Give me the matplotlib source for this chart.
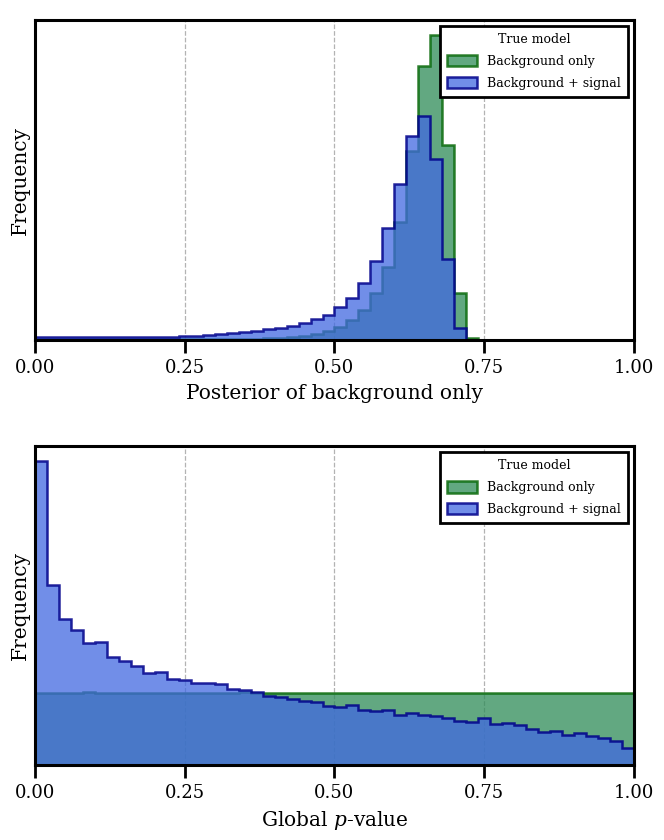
import numpy as np
import matplotlib
matplotlib.use('Agg')
import matplotlib.pyplot as plt

plt.rcParams['font.family'] = ['DejaVu Serif']
plt.rcParams['mathtext.fontset'] = 'dejavuserif'

# 50 bins of width 0.02 on [0, 1]
bin_edges = np.linspace(0, 1, 51)

# top panel: posterior of background only (arbitrary frequency units)
post_bkg_only = [0.8, 0.8, 0.7, 0.6, 0.6, 0.6, 0.6, 0.6, 0.7, 0.7,
                 0.7, 0.8, 0.9, 1.0, 1.0, 1.1, 1.2, 1.3, 1.5, 1.7,
                 2.0, 2.7, 4.0, 6.0, 9.5, 13.3, 20.0, 30.0, 46.7, 73.3,
                 118.3, 188.3, 273.3, 304.3, 195.0, 47.3, 2.3, 0, 0, 0,
                 0, 0, 0, 0, 0, 0, 0, 0, 0, 0]
post_bkg_signal = [3.0, 3.2, 3.0, 2.6, 2.6, 2.6, 2.7, 2.8, 3.0, 3.0,
                   3.2, 3.4, 4.0, 4.3, 5.0, 5.7, 7.0, 8.0, 9.0, 10.7,
                   12.0, 14.3, 17.3, 21.0, 25.0, 33.3, 41.7, 56.7, 79.0, 112.3,
                   155.7, 203.3, 223.3, 180.7, 80.7, 11.7, 0, 0, 0, 0,
                   0, 0, 0, 0, 0, 0, 0, 0, 0, 0]

# bottom panel: global p-value
pval_bkg_only = [72.0, 72.3, 71.8, 72.1, 72.4, 71.9, 72.0, 72.2, 71.7, 72.0,
                 72.3, 72.1, 71.8, 72.0, 72.2, 71.9, 72.1, 72.4, 72.0, 71.8,
                 72.2, 72.0, 71.9, 72.3, 72.1, 72.0, 71.8, 72.2, 72.0, 71.9,
                 72.1, 72.3, 72.0, 71.8, 72.2, 72.0, 71.9, 72.1, 72.0, 72.2,
                 71.9, 72.0, 72.3, 72.1, 71.8, 72.0, 72.2, 72.0, 72.1, 71.9]
pval_bkg_signal = [303.3, 180.0, 146.0, 134.3, 121.7, 122.7, 108.3, 104.3, 99.0, 91.7,
                   93.0, 86.3, 85.0, 81.7, 81.7, 81.3, 76.3, 75.0, 72.5, 69.0,
                   68.3, 66.0, 64.3, 63.0, 59.0, 58.3, 59.7, 54.7, 53.7, 54.7,
                   49.7, 52.3, 50.0, 49.0, 47.0, 44.3, 43.3, 46.7, 40.7, 41.7,
                   40.3, 36.0, 33.3, 34.3, 29.7, 31.7, 29.0, 27.3, 24.0, 17.3]

labels = ['Background only', 'Background + signal']
xticks = [0.0, 0.25, 0.5, 0.75, 1.0]


def draw_panel(ax, bkg, sig, xlabel):
    centers = 0.5 * (bin_edges[:-1] + bin_edges[1:])
    ax.hist(centers, bins=bin_edges, weights=bkg, histtype='stepfilled',
            facecolor=matplotlib.colors.to_rgba('seagreen', 0.75),
            edgecolor=matplotlib.colors.to_rgba('darkgreen', 0.8),
            linewidth=1.8, label=labels[0])
    ax.hist(centers, bins=bin_edges, weights=sig, histtype='stepfilled',
            facecolor=matplotlib.colors.to_rgba('royalblue', 0.75),
            edgecolor=matplotlib.colors.to_rgba('darkblue', 0.85),
            linewidth=1.8, label=labels[1])
    ax.set_xlim(0, 1)
    ax.set_xticks(xticks)
    ax.set_xticklabels(['%.2f' % t for t in xticks])
    ax.set_yticks([])
    ax.set_axisbelow(True)
    ax.grid(axis='x', linestyle='--', color='0.7', linewidth=0.9)
    for sp in ax.spines.values():
        sp.set_linewidth(2.2)
    ax.tick_params(axis='x', length=9, width=2, labelsize=13, pad=5)
    ax.set_xlabel(xlabel, fontsize=14.5, labelpad=5)
    ax.set_ylabel('Frequency', fontsize=14.5, labelpad=4)
    leg = ax.legend(loc='upper right', title='True model', fontsize=9,
                    title_fontsize=9, fancybox=False, framealpha=1,
                    edgecolor='black', borderaxespad=0.5, borderpad=0.55,
                    labelspacing=0.7, handlelength=2.4, handleheight=1.05,
                    handletextpad=0.8)
    leg.get_frame().set_linewidth(2)


fig = plt.figure(figsize=(6.64, 8.4), dpi=100)
ax1 = fig.add_axes([0.0527, 0.5952, 0.9021, 0.381])
ax2 = fig.add_axes([0.0527, 0.0893, 0.9021, 0.3797])

draw_panel(ax1, post_bkg_only, post_bkg_signal, 'Posterior of background only')
draw_panel(ax2, pval_bkg_only, pval_bkg_signal, r'Global $p$-value')

fig.savefig('out.png', dpi=100)
